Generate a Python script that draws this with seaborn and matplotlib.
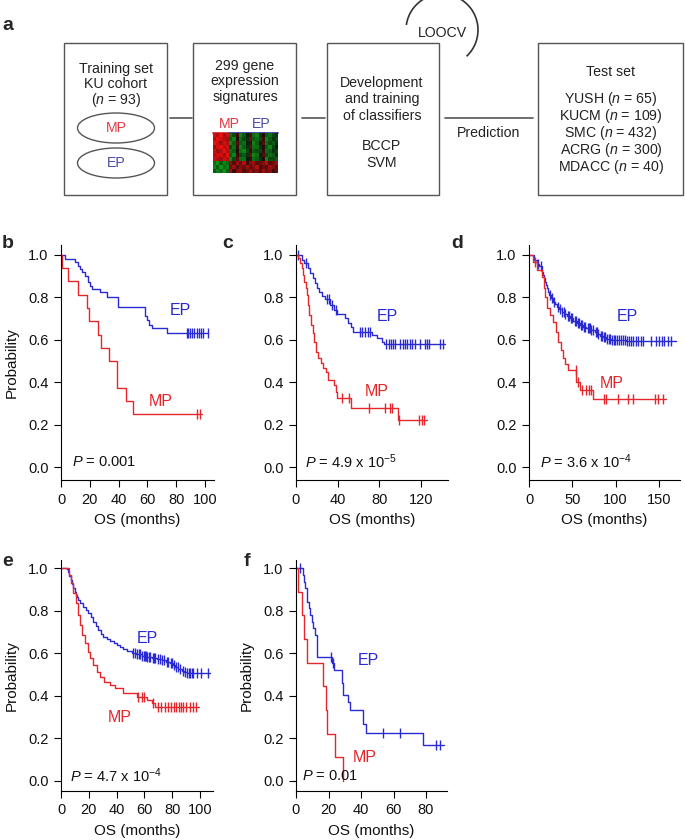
import numpy as np
import matplotlib
matplotlib.use("Agg")
import matplotlib.pyplot as plt
from matplotlib.patches import Rectangle, Ellipse, Arc
from matplotlib.colors import LinearSegmentedColormap
from matplotlib.ticker import FormatStrFormatter
import seaborn as sns

sns.set_theme(style="ticks")
plt.rcParams["font.family"] = ["Liberation Sans", "DejaVu Sans"]
plt.rcParams["mathtext.fontset"] = "custom"
plt.rcParams["mathtext.rm"] = "Liberation Sans"
plt.rcParams["mathtext.it"] = "Liberation Sans:italic"
plt.rcParams["mathtext.bf"] = "Liberation Sans:bold"

RED = "#e5262b"
BLUE = "#2a2ad4"

# ---- KM curves: event times, survival after each event, last follow-up, censor times ----
# b: KU cohort
b_ep_t = [2.8, 9.7, 11.6, 13.2, 14.8, 16.7, 18.5, 19.0, 19.9, 21.8, 27.1, 31.7, 39.8, 58.3, 59.5, 61.1, 63.4, 73.8]
b_ep_s = [0.981, 0.965, 0.950, 0.934, 0.918, 0.902, 0.887, 0.871, 0.855, 0.840, 0.824, 0.803, 0.756, 0.714, 0.693, 0.670, 0.654, 0.634]
b_ep_end = 102.3
b_ep_c = [87.3, 88.4, 89.6, 91.2, 92.6, 94.2, 95.8, 97.2, 98.8, 102.3]
b_mp_t = [0.5, 5.1, 11.5, 18.3, 19.7, 25.9, 27.5, 33.6, 38.7, 39.1, 45.1, 50.2]
b_mp_s = [0.9375, 0.875, 0.8125, 0.75, 0.6875, 0.625, 0.5625, 0.5, 0.4375, 0.375, 0.3125, 0.25]
b_mp_end = 97.7
b_mp_c = [94.7, 96.5]

# c: YUSH
c_ep_t = [5.4, 8.0, 11.2, 13.5, 16.7, 18.3, 19.9, 22.1, 24.7, 27.9, 32.7, 36.9, 39.1, 47.1, 49.7, 52.9, 55.1, 72.8, 77.6, 82.4, 84.9]
c_ep_s = [0.976, 0.960, 0.937, 0.913, 0.890, 0.866, 0.846, 0.824, 0.808, 0.792, 0.764, 0.741, 0.720, 0.701, 0.681, 0.662, 0.635, 0.623, 0.607, 0.591, 0.579]
c_ep_end = 143.3
c_ep_c = [2.2, 9.6, 29.5, 32.1, 34.3, 38.5, 61.5, 63.8, 66.3, 68.9, 71.2, 87.0, 89.0, 91.0, 93.0, 95.2, 100.0,
          102.6, 104.8, 107.0, 109.6, 111.9, 114.4, 119.2, 124.0, 126.2, 128.2, 138.5, 141.0]
c_mp_t = [2.2, 3.8, 5.4, 7.1, 8.0, 9.3, 10.3, 11.2, 12.5, 14.4, 16.7, 17.6, 18.9, 21.5, 24.0, 26.3, 28.5, 30.4, 36.9, 38.5, 39.1, 52.9, 97.8]
c_mp_s = [0.984, 0.961, 0.937, 0.906, 0.874, 0.843, 0.811, 0.764, 0.717, 0.670, 0.630, 0.591, 0.544, 0.513, 0.489, 0.465, 0.450, 0.410, 0.387, 0.355, 0.327, 0.277, 0.222]
c_mp_end = 125.6
c_mp_c = [43.9, 51.0, 70.2, 85.6, 90.4, 92.6, 99.0, 118.3, 120.8, 123.4]

# d: SMC
d_ep_t = [5.7, 8.8, 12.0, 14.6, 15.5, 16.5, 17.5, 18.4, 19.8, 21.1, 22.2, 23.4, 25.5, 28.0, 30.0, 31.8, 34.5, 37.5,
          40.5, 43.3, 47.0, 51.0, 55.0, 58.6, 62.0, 66.3, 71.0, 75.9, 79.0, 81.6, 85.0, 89.3, 95.0, 100.8, 112.3]
d_ep_s = [0.976, 0.956, 0.946, 0.937, 0.921, 0.906, 0.890, 0.874, 0.858, 0.843, 0.827, 0.811, 0.795, 0.780, 0.768,
          0.756, 0.745, 0.733, 0.724, 0.714, 0.701, 0.689, 0.680, 0.670, 0.662, 0.654, 0.645, 0.635, 0.627, 0.619,
          0.611, 0.604, 0.600, 0.597, 0.594]
d_ep_end = 170.0
d_ep_c = [10.7, 13.4, 24.1, 26.1, 28.7, 33.0, 35.5, 38.0, 40.0, 42.0, 44.5, 46.0, 48.5, 50.0, 52.5, 54.0, 56.5, 58.0,
          60.0, 61.5, 63.0, 65.0, 67.5, 69.0, 70.5, 72.0, 74.0, 77.0, 78.5, 80.0, 83.0, 84.5, 86.0, 88.0, 90.5, 92.0,
          94.0, 96.0, 98.0, 99.5, 102.0, 104.0, 106.0, 108.0, 110.5, 113.0, 115.0, 117.5, 120.0, 123.0, 126.0, 129.0,
          131.0, 141.0, 147.0, 150.0, 154.0, 156.0, 160.0, 164.0]
d_mp_t = [5.0, 9.6, 14.6, 17.2, 18.4, 20.3, 24.1, 27.2, 31.0, 33.7, 36.4, 38.7, 41.4, 45.2, 54.5, 58.6, 73.5]
d_mp_s = [0.965, 0.930, 0.898, 0.843, 0.803, 0.748, 0.717, 0.686, 0.635, 0.591, 0.552, 0.513, 0.484, 0.458, 0.403, 0.363, 0.321]
d_mp_end = 158.2
d_mp_c = [6.9, 54.0, 56.7, 61.7, 65.5, 69.3, 72.0, 86.2, 88.5, 102.7, 114.2, 119.9, 144.8, 148.7, 154.4]

# e: ACRG
e_ep_t = [4.1, 5.3, 6.0, 7.2, 8.1, 8.9, 9.8, 10.6, 11.4, 12.5, 14.0, 16.1, 18.0, 19.7, 21.4, 23.3, 25.0, 26.9, 28.8,
          30.5, 33.0, 35.3, 37.8, 40.0, 42.5, 44.8, 47.5, 50.8, 54.0, 58.0, 61.5, 65.2, 69.0, 72.4, 75.5, 78.4, 80.5,
          82.0, 84.5, 86.8, 88.5, 90.4]
e_ep_s = [0.995, 0.983, 0.965, 0.944, 0.925, 0.905, 0.888, 0.873, 0.862, 0.850, 0.836, 0.818, 0.803, 0.787, 0.768,
          0.748, 0.728, 0.709, 0.692, 0.678, 0.669, 0.659, 0.648, 0.638, 0.628, 0.618, 0.611, 0.603, 0.595, 0.587,
          0.582, 0.576, 0.572, 0.568, 0.561, 0.552, 0.543, 0.534, 0.526, 0.518, 0.511, 0.505]
e_ep_end = 107.2
e_ep_c = [52.0, 53.5, 55.0, 56.0, 57.0, 58.5, 59.5, 60.5, 61.2, 62.0, 63.0, 64.0, 66.0, 67.0, 68.0, 70.0, 71.5, 73.0,
          74.0, 76.0, 77.0, 79.0, 80.0, 81.0, 83.0, 84.0, 85.5, 87.5, 89.0, 91.0, 92.0, 93.0, 94.0, 95.0, 98.0, 101.0, 106.0]
e_mp_t = [5.8, 7.2, 8.9, 10.6, 12.0, 13.7, 15.3, 17.3, 19.2, 20.9, 23.3, 25.7, 28.1, 31.2, 35.3, 38.8, 44.8, 54.4, 61.6, 65.2, 67.6]
e_mp_s = [0.967, 0.928, 0.881, 0.834, 0.779, 0.732, 0.685, 0.646, 0.607, 0.576, 0.545, 0.513, 0.487, 0.466, 0.451,
          0.435, 0.415, 0.396, 0.380, 0.365, 0.349]
e_mp_end = 99.3
e_mp_c = [55.2, 58.5, 60.0, 66.4, 70.0, 72.0, 74.5, 77.0, 79.0, 81.0, 83.0, 85.0, 86.5, 88.0, 90.0, 93.0, 95.0, 97.0]

# f: MDACC
f_ep_t = [4.1, 4.9, 5.5, 6.6, 7.0, 8.2, 8.6, 9.6, 10.7, 11.7, 12.7, 13.1, 21.9, 23.4, 28.1, 28.7, 32.2, 33.2, 41.4, 43.1, 78.4]
f_ep_s = [0.967, 0.936, 0.905, 0.873, 0.842, 0.811, 0.779, 0.748, 0.717, 0.685, 0.654, 0.584, 0.552, 0.521, 0.459,
          0.404, 0.372, 0.333, 0.270, 0.224, 0.169]
f_ep_end = 91.0
f_ep_c = [2.5, 21.5, 22.5, 53.6, 64.2, 86.0, 88.6]
f_mp_t = [1.4, 3.5, 4.9, 6.6, 16.8, 18.5, 18.9, 24.0, 28.7]
f_mp_s = [0.889, 0.778, 0.667, 0.556, 0.444, 0.333, 0.222, 0.111, 0.0]
f_mp_end = 28.7
f_mp_c = []

# heatmap thumbnail in panel a (5 MP columns, 15 EP columns)
heat_rows = [
    [8, 7, 9, 6, 8, -5, -3, 2, -6, -4, -1, 3, -5, -6, -2, 1, -4, -5, -3, -2],
    [7, 9, 8, 7, 6, -4, -6, 1, -5, -3, -2, 4, -4, -5, -3, 2, -6, -4, -2, -3],
    [9, 8, 6, 8, 7, -6, -4, 3, -4, -5, -1, 2, -6, -4, -1, 3, -5, -3, -4, -2],
    [6, 8, 9, 7, 8, -3, -5, 2, -6, -4, -2, 3, -5, -5, -2, 1, -4, -6, -3, -1],
    [8, 6, 7, 9, 7, -5, -4, 1, -5, -6, -3, 2, -4, -3, -3, 2, -5, -4, -2, -3],
    [7, 8, 8, 6, 9, -4, -6, 2, -3, -4, -2, 4, -6, -5, -1, 3, -3, -5, -4, -2],
    [8, 7, 6, 8, 7, -6, -3, 3, -5, -5, -1, 2, -5, -4, -2, 1, -6, -3, -3, -4],
    [-5, -7, -4, -6, -5, 5, 3, 6, 4, 7, 2, 5, 6, 3, 4, 5, 7, 3, 4, 6],
    [-6, -4, -7, -5, -6, 4, 6, 3, 5, 4, 6, 3, 5, 7, 2, 4, 3, 6, 5, 3],
    [-4, -6, -5, -7, -4, 6, 2, 5, 6, 3, 4, 6, 4, 5, 3, 6, 4, 5, 2, 4],
]

W, H = 685, 840
fig = plt.figure(figsize=(W / 100, H / 100), dpi=100)


def fx(px):
    return px / W


def fy(py):
    return 1 - py / H


# ---------------- panel a (drawn in pixel coordinates) ----------------
axa = fig.add_axes([0, 0, 1, 1])
axa.set_xlim(0, W)
axa.set_ylim(H, 0)
axa.axis("off")
box_kw = dict(fill=False, ec="#555555", lw=1.0)
for x0, x1 in [(64, 167), (193, 296), (327, 439), (538, 683)]:
    axa.add_patch(Rectangle((x0, 43), x1 - x0, 152, **box_kw))
for x0, x1 in [(170, 192), (302, 325), (445, 533)]:
    axa.plot([x0, x1], [118, 118], color="#555555", lw=1.2)

fs_a = 10.2
txt = dict(ha="center", va="center", fontsize=fs_a, color="#222222")
axa.text(116, 69, "Training set", **txt)
axa.text(116, 84, "KU cohort", **txt)
axa.text(116, 100, r"($n$ = 93)", **txt)
axa.add_patch(Ellipse((116, 128), 77, 30, fill=False, ec="#555555", lw=1.0))
axa.add_patch(Ellipse((116, 163), 77, 30, fill=False, ec="#555555", lw=1.0))
axa.text(116, 128, "MP", ha="center", va="center", fontsize=fs_a, color="#e23b45")
axa.text(116, 163, "EP", ha="center", va="center", fontsize=fs_a, color="#4b4ba8")

axa.text(245, 66, "299 gene", **txt)
axa.text(245, 81, "expression", **txt)
axa.text(245, 97, "signatures", **txt)
axa.text(229, 124, "MP", ha="center", va="center", fontsize=fs_a, color="#e23b45")
axa.text(261, 124, "EP", ha="center", va="center", fontsize=fs_a, color="#4b4ba8")
axa.plot([213, 229], [133, 133], color="#e23b45", lw=1.4)
axa.plot([229, 278], [133, 133], color="#4b4ba8", lw=1.4)

axa.text(382, 83, "Development", **txt)
axa.text(382, 99, "and training", **txt)
axa.text(382, 116, "of classifiers", **txt)
axa.text(382, 146, "BCCP", **txt)
axa.text(382, 163, "SVM", **txt)

axa.text(489, 133, "Prediction", **txt)
axa.text(442, 33, "LOOCV", **txt)
axa.add_patch(Arc((442, 30), 72, 72, theta1=188, theta2=47, ec="#333333", lw=1.2))

axa.text(611, 72, "Test set", **txt)
for yy, s in zip([99, 116, 133, 150, 167],
                 [r"YUSH ($n$ = 65)", r"KUCM ($n$ = 109)", r"SMC ($n$ = 432)",
                  r"ACRG ($n$ = 300)", r"MDACC ($n$ = 40)"]):
    axa.text(611, yy, s, **txt)

axh = fig.add_axes([fx(213), fy(173), fx(65), 40 / H])
cmap = LinearSegmentedColormap.from_list("rg", ["#10d020", "#0a0a0a", "#ff1010"])
sns.heatmap(np.array(heat_rows) / 10.0, cmap=cmap, vmin=-1, vmax=1, cbar=False,
            xticklabels=False, yticklabels=False, ax=axh)

# ---------------- KM panels ----------------


def km(ax, t, s, end, cens, color):
    x = [0.0] + list(t) + [end]
    y = [1.0] + list(s) + [s[-1]]
    sns.lineplot(x=x, y=y, drawstyle="steps-post", estimator=None, sort=False,
                 color=color, lw=1.0, ax=ax)
    if len(cens):
        idx = np.searchsorted(t, cens, side="right")
        cy = np.r_[1.0, s][idx]
        ax.plot(cens, cy, ls="none", marker="|", ms=6.5, mew=1.0, color=color)


def style(ax, xticks, xmax, ylim, ylabel):
    ax.set_xlim(0, xmax)
    ax.set_ylim(*ylim)
    ax.set_xticks(xticks)
    ax.set_yticks([0, 0.2, 0.4, 0.6, 0.8, 1.0])
    ax.yaxis.set_major_formatter(FormatStrFormatter("%.1f"))
    sns.despine(ax=ax)
    for sp in ["left", "bottom"]:
        ax.spines[sp].set_linewidth(0.8)
        ax.spines[sp].set_color("black")
    ax.tick_params(length=5, width=0.8, labelsize=10.5, pad=4, color="black", labelcolor="#111111")
    ax.set_xlabel("OS (months)", fontsize=11, labelpad=5, color="#111111")
    if ylabel:
        ax.set_ylabel("Probability", fontsize=11, labelpad=7, color="#111111")
    else:
        ax.set_ylabel("")


ROW1 = (-0.061, 1.047)
ROW2 = (-0.047, 1.038)
panels = [
    # letter, axes rect px (x0, x1, ytop, ybot), xticks, xmax, ylim, ylabel, data, p text, EP pos, MP pos, p x, letter pos
    ("b", (61, 214, 245, 480), [0, 20, 40, 60, 80, 100], 106.25, ROW1, True,
     (b_ep_t, b_ep_s, b_ep_end, b_ep_c, b_mp_t, b_mp_s, b_mp_end, b_mp_c),
     r"$P$ = 0.001", (82.6, 0.74), (69.4, 0.307), 0.072, (8, 243)),
    ("c", (296, 448, 245, 480), [0, 40, 80, 120], 146.2, ROW1, False,
     (c_ep_t, c_ep_s, c_ep_end, c_ep_c, c_mp_t, c_mp_s, c_mp_end, c_mp_c),
     r"$P$ = 4.9 x 10$^{-5}$", (87.5, 0.712), (77.9, 0.358), 0.06, (228, 243)),
    ("d", (529, 680, 245, 480), [0, 50, 100, 150], 174.2, ROW1, False,
     (d_ep_t, d_ep_s, d_ep_end, d_ep_c, d_mp_t, d_mp_s, d_mp_end, d_mp_c),
     r"$P$ = 3.6 x 10$^{-4}$", (113.0, 0.708), (95.7, 0.396), 0.073, (457, 243)),
    ("e", (61, 213, 560, 791), [0, 20, 40, 60, 80, 100], 109.4, ROW2, True,
     (e_ep_t, e_ep_s, e_ep_end, e_ep_c, e_mp_t, e_mp_s, e_mp_end, e_mp_c),
     r"$P$ = 4.7 x 10$^{-4}$", (61.9, 0.671), (42.4, 0.296), 0.06, (8, 562)),
    ("f", (296, 447, 560, 791), [0, 20, 40, 60, 80], 92.9, ROW2, True,
     (f_ep_t, f_ep_s, f_ep_end, f_ep_c, f_mp_t, f_mp_s, f_mp_end, f_mp_c),
     r"$P$ = 0.01", (44.3, 0.568), (42.5, 0.108), 0.04, (247, 562)),
]

for letter, (x0, x1, yt, yb), xt, xmax, ylim, ylab, data, ptxt, ep_pos, mp_pos, px, lpos in panels:
    ax = fig.add_axes([fx(x0), fy(yb), (x1 - x0) / W, (yb - yt) / H])
    ept, eps, epe, epc, mpt, mps, mpe, mpc = data
    km(ax, ept, eps, epe, epc, BLUE)
    km(ax, mpt, mps, mpe, mpc, RED)
    style(ax, xt, xmax, ylim, ylab)
    ax.text(ep_pos[0], ep_pos[1], "EP", color=BLUE, fontsize=11.5, ha="center", va="center")
    ax.text(mp_pos[0], mp_pos[1], "MP", color=RED, fontsize=11.5, ha="center", va="center")
    ax.text(px, 0.025, ptxt, transform=ax.get_yaxis_transform(), fontsize=10.5,
            ha="left", va="center", color="#111111")
    fig.text(fx(lpos[0]), fy(lpos[1]), letter, fontsize=14, fontweight="bold", ha="center", va="center")

fig.text(fx(8), fy(26), "a", fontsize=14, fontweight="bold", ha="center", va="center")

fig.savefig("out.png", dpi=100)
